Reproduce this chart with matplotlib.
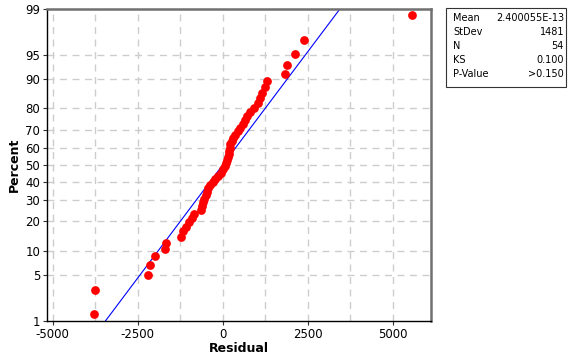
import numpy as np
import matplotlib
matplotlib.use("Agg")
import matplotlib.pyplot as plt
from statistics import NormalDist

# ---- data (residuals, sorted) ----
residuals = [-3776, -3747, -2197, -2147, -1982, -1706, -1676, -1235, -1168, -1079,
             -991, -918, -844, -647, -609, -579, -550, -506, -462, -432,
             -388, -285, -226, -138, -50, 9, 53, 82, 112, 141,
             171, 185, 200, 215, 259, 303, 362, 435, 509, 597,
             656, 715, 803, 921, 1038, 1097, 1156, 1229, 1288, 1832,
             1882, 2126, 2400, 5576]
stat_labels = ["Mean", "StDev", "N", "KS", "P-Value"]
stat_values = ["2.400055E-13", "1481", "54", "0.100", ">0.150"]
fit_mean = 2.400055e-13
fit_sd = 1481.0
y_ticks = [1, 5, 10, 20, 30, 40, 50, 60, 70, 80, 90, 95, 99]
x_ticks = [-5000, -2500, 0, 2500, 5000]

nd = NormalDist()

def _ppf1(p):
    if not np.isfinite(p):
        return np.nan
    return nd.inv_cdf(min(max(p / 100.0, 1e-12), 1 - 1e-12))

def _cdf1(z):
    if not np.isfinite(z):
        return np.nan
    return nd.cdf(z) * 100.0

_ppf = np.vectorize(_ppf1, otypes=[float])
_cdf = np.vectorize(_cdf1, otypes=[float])

def fwd(p):
    a = np.ma.filled(np.ma.asarray(p, dtype=float), np.nan)
    return _ppf(a)

def inv(z):
    a = np.ma.filled(np.ma.asarray(z, dtype=float), np.nan)
    return _cdf(a)

n = len(residuals)
ranks = np.arange(1, n + 1)
pct = (ranks - 0.3) / (n + 0.4) * 100

fig = plt.figure(figsize=(5.68, 3.59), dpi=100)
ax = fig.add_axes([47 / 568, 1 - 320.7 / 359, (431 - 47) / 568, (320.7 - 9) / 359])
ax.set_yscale('function', functions=(fwd, inv))
ax.set_xlim(-5170, 6126)
ax.set_ylim(1, 99)

# grid
for gx in np.arange(-5000, 6001, 1250):
    ax.axvline(gx, color='#cdcdcd', lw=1.0, ls=(0, (5, 4)), zorder=0)
for gy in y_ticks[1:-1]:
    ax.axhline(gy, color='#cdcdcd', lw=1.0, ls=(0, (5, 4)), zorder=0)

# fitted line
pline = np.linspace(1, 99, 300)
xline = fit_mean + fit_sd * fwd(pline)
ax.plot(xline, pline, color='#0000ff', lw=0.8, zorder=2)

ax.plot(residuals, pct, 'o', color='#ff0000', ms=6.3, mec='#ff0000', mew=0, zorder=3)

ax.set_yticks(y_ticks)
ax.set_yticklabels([str(t) for t in y_ticks])
ax.yaxis.set_minor_locator(matplotlib.ticker.NullLocator())
ax.set_xticks(x_ticks)
ax.set_xticklabels([str(t) for t in x_ticks])
ax.tick_params(axis='both', labelsize=8.5, length=3, width=0.8, pad=2, color='#333333')

for s in ['left', 'bottom']:
    ax.spines[s].set_color('#000000')
    ax.spines[s].set_linewidth(1.0)
for s in ['top', 'right']:
    ax.spines[s].set_color('#707070')
    ax.spines[s].set_linewidth(1.8)

ax.set_xlabel("Residual", fontsize=9, fontweight='bold', labelpad=1)
ax.set_ylabel("Percent", fontsize=9, fontweight='bold', labelpad=3)

# stats box
bx0, bx1, by0, by1 = 446 / 568, 566 / 568, 1 - 87 / 359, 1 - 8 / 359
rect = plt.Rectangle((bx0, by0), bx1 - bx0, by1 - by0, transform=fig.transFigure,
                     fill=False, ec='#333333', lw=0.8)
fig.add_artist(rect)
for k, (lab, val) in enumerate(zip(stat_labels, stat_values)):
    yy = 1 - (18 + k * 14) / 359
    fig.text(453 / 568, yy, lab, fontsize=7, va='center', ha='left')
    fig.text(564 / 568, yy, val, fontsize=7, va='center', ha='right')

fig.savefig("out.png", dpi=100)
